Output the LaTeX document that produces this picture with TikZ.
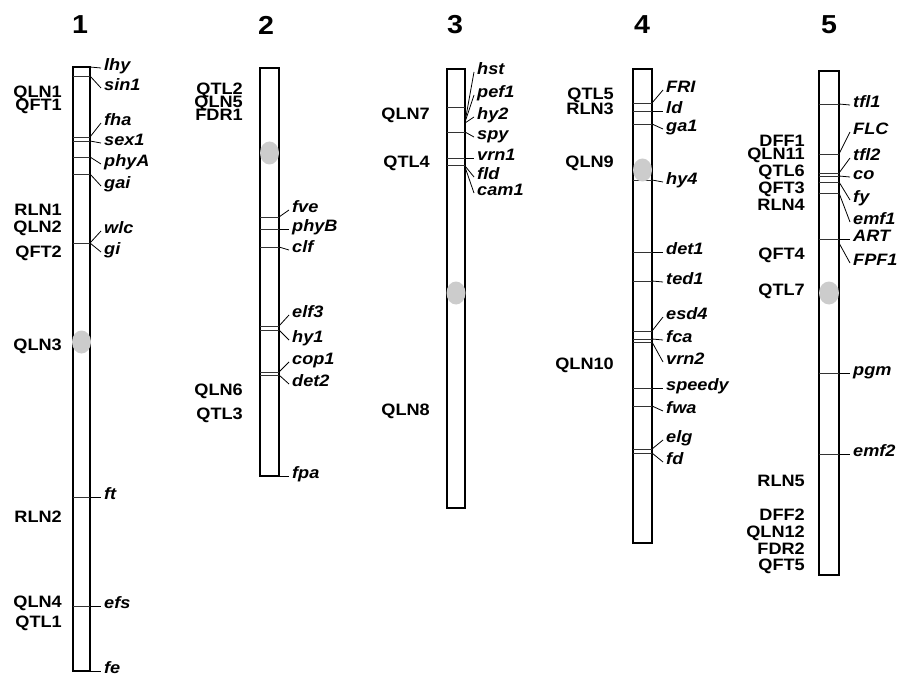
\documentclass[tikz,border=0pt]{standalone}
\usepackage{fontspec}
\setmainfont{Liberation Sans}[FakeStretch=1.1]
\newcommand{\qfont}{\fontsize{16.5}{16.5}\selectfont\bfseries}
\newcommand{\gfont}{\fontsize{16.5}{16.5}\selectfont\bfseries\itshape}
\newcommand{\tfont}{\fontsize{26}{26}\selectfont\bfseries}
\tikzset{
  chrom/.style={draw=black, line width=2.2pt, fill=white},
  band/.style={line width=0.9pt, draw=black!80},
  conn/.style={line width=0.8pt, draw=black},
  gene/.style={font=\gfont, anchor=mid west, inner sep=0pt},
  qtl/.style={font=\qfont, anchor=mid east, inner sep=0pt},
  chtitle/.style={font=\tfont, inner sep=0pt},
  centro/.style={fill=black!20, draw=none}
}
\begin{document}
\begin{tikzpicture}[x=1pt,y=-1pt]
\useasboundingbox (0,0) rectangle (899,679);

% ---------- chromosome 1 ----------
\node[chtitle] (t1) at (80,25) {1};
\draw[chrom] (73,67) rectangle (90,671);
\foreach \y in {76,137,141,157,174,243,497,606} \draw[band] (73,\y) -- (90,\y);
\fill[centro] (81.5,342) ellipse (9.5 and 11.5);
\foreach \fy/\ly/\t [count=\k] in {67/68/lhy,76/88/sin1,137/123/fha,141/143/sex1,157/164/phyA,174/186/gai,243/231/wlc,243/252/gi,497/497/ft,606/606/efs,671/671/fe}{
  \coordinate (a\k) at (90,\fy);
  \node[gene] (ga\k) at (104,\ly) {\t};
  \draw[conn] (a\k) -- ([xshift=-3pt]ga\k.mid west);
}
\foreach \ly/\t [count=\k] in {95/QLN1,108/QFT1,213/RLN1,230/QLN2,255/QFT2,348/QLN3,520/RLN2,605/QLN4,625/QTL1}
  \node[qtl] (qa\k) at (62,\ly) {\t};

% ---------- chromosome 2 ----------
\node[chtitle] (t2) at (266,25) {2};
\draw[chrom] (260,68) rectangle (279,476);
\foreach \y in {217,229,247,326,330,372,375} \draw[band] (260,\y) -- (279,\y);
\fill[centro] (269.5,153) ellipse (9.5 and 11.5);
\foreach \fy/\ly/\t [count=\k] in {217/210/fve,229/229/phyB,247/250/clf,326/315/elf3,330/340/hy1,372/362/cop1,375/384/det2,476/476/fpa}{
  \coordinate (b\k) at (279,\fy);
  \node[gene] (gb\k) at (292,\ly) {\t};
  \draw[conn] (b\k) -- ([xshift=-3pt]gb\k.mid west);
}
\foreach \ly/\t [count=\k] in {92/QTL2,105/QLN5,118/FDR1,393/QLN6,417/QTL3}
  \node[qtl] (qb\k) at (243,\ly) {\t};

% ---------- chromosome 3 ----------
\node[chtitle] (t3) at (455,25) {3};
\draw[chrom] (447,69) rectangle (465,508);
\foreach \y in {107,132,158,165} \draw[band] (447,\y) -- (465,\y);
\fill[centro] (456,293) ellipse (9.5 and 11.5);
\foreach \fy/\ly/\t [count=\k] in {122/72/hst,122/95/pef1,123/117/hy2,132/137/spy,158/158/vrn1,166/177/fld,167/193/cam1}{
  \coordinate (c\k) at (465,\fy);
  \node[gene] (gc\k) at (477,\ly) {\t};
  \draw[conn] (c\k) -- ([xshift=-3pt]gc\k.mid west);
}
\foreach \ly/\t [count=\k] in {117/QLN7,165/QTL4,413/QLN8}
  \node[qtl] (qc\k) at (430,\ly) {\t};

% ---------- chromosome 4 ----------
\node[chtitle] (t4) at (642,25) {4};
\draw[chrom] (633,69) rectangle (652,543);
\foreach \y in {103,111,124,180,252,281,331,339,342,388,406,449,453} \draw[band] (633,\y) -- (652,\y);
\fill[centro] (642.5,170) ellipse (9.5 and 11.5);
\foreach \fy/\ly/\t [count=\k] in {103/90/FRI,111/111/ld,124/129/ga1,180/182/hy4,252/252/det1,281/282/ted1,331/317/esd4,339/340/fca,342/362/vrn2,388/388/speedy,406/411/fwa,449/440/elg,453/462/fd}{
  \coordinate (d\k) at (652,\fy);
  \node[gene] (gd\k) at (666,\ly) {\t};
  \draw[conn] (d\k) -- ([xshift=-3pt]gd\k.mid west);
}
\foreach \ly/\t [count=\k] in {97/QTL5,112/RLN3,165/QLN9,367/QLN10}
  \node[qtl] (qd\k) at (614,\ly) {\t};

% ---------- chromosome 5 ----------
\node[chtitle] (t5) at (829,25) {5};
\draw[chrom] (819,71) rectangle (839,575);
\foreach \y in {104,154,173,176,182,193,239,373,454} \draw[band] (819,\y) -- (839,\y);
\fill[centro] (829,293) ellipse (10 and 11.5);
\foreach \fy/\ly/\t [count=\k] in {104/105/tfl1,154/132/FLC,173/158/tfl2,176/177/co,182/200/fy,193/222/emf1,239/239/ART,243/263/FPF1,373/373/pgm,454/454/emf2}{
  \coordinate (e\k) at (839,\fy);
  \node[gene] (ge\k) at (853,\ly) {\t};
  \draw[conn] (e\k) -- ([xshift=-3pt]ge\k.mid west);
}
\foreach \ly/\t [count=\k] in {144/DFF1,157/QLN11,174/QTL6,191/QFT3,208/RLN4,257/QFT4,293/QTL7,484/RLN5,518/DFF2,535/QLN12,552/FDR2,568/QFT5}
  \node[qtl] (qe\k) at (805,\ly) {\t};
\end{tikzpicture}
\end{document}
